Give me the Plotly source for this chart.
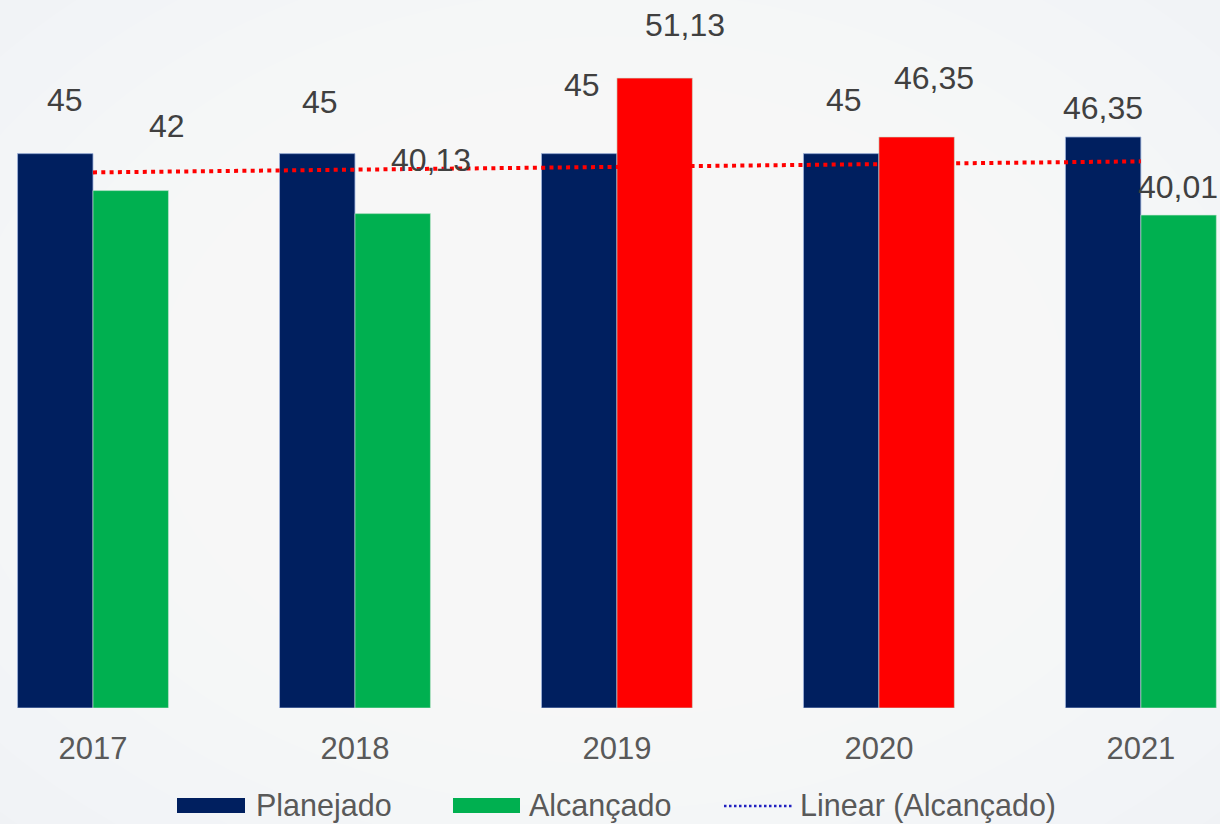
import numpy as np
import plotly.graph_objects as go

# --- data -----------------------------------------------------------------
years = ["2017", "2018", "2019", "2020", "2021"]
planejado = [45, 45, 45, 45, 46.35]
alcancado = [42, 40.13, 51.13, 46.35, 40.01]

# --- styling --------------------------------------------------------------
NAVY = "#001F5F"
GREEN = "#00B050"
RED = "#FF0000"
FONT = "Arial, Liberation Sans, sans-serif"
LABEL_COLOR = "#404040"
TICK_COLOR = "#595959"
BARGAP = 0.424
HALF = (1 - BARGAP) / 4  # centre offset of each bar inside its group

# Achieved bars above the planned level are highlighted in red
alc_colors = [RED if a > p else GREEN for a, p in zip(alcancado, planejado)]

# Per-label nudges (pixels) for the hand-placed value labels
plan_label_shift = [(10, 54), (3, 52), (3, 69), (3, 54), (0, 29)]
alc_label_shift = [(36, 65), (38, 54), (30, 53), (17, 59), (-1, 28)]


def fmt(v):
    if float(v).is_integer():
        return str(int(v))
    return f"{v:.2f}".replace(".", ",")


# Linear trend of the achieved values
xi = np.arange(1, len(alcancado) + 1)
slope, intercept = np.polyfit(xi, alcancado, 1)
trend = slope * xi + intercept

fig = go.Figure()
fig.add_bar(
    x=years, y=planejado, name="Planejado",
    marker=dict(color=NAVY, line=dict(color="rgba(160,180,220,0.8)", width=1)),
    showlegend=False,
)
fig.add_bar(
    x=years, y=alcancado, name="Alcançado",
    marker=dict(color=alc_colors, line=dict(color="rgba(200,230,210,0.6)", width=1)),
    showlegend=False,
)
fig.add_scatter(
    x=years, y=trend, mode="lines", name="Linear (Alcançado)",
    line=dict(color=RED, width=4, dash="4px,4.3px"),
    showlegend=False, hoverinfo="skip",
)

annotations = []
for i, (val, (dx, dy)) in enumerate(zip(planejado, plan_label_shift)):
    annotations.append(dict(
        x=i - HALF, y=float(val), xref="x", yref="y", text=fmt(val),
        showarrow=False, xshift=dx, yshift=dy,
        yanchor="middle", xanchor="center",
        font=dict(family=FONT, size=32, color=LABEL_COLOR),
    ))
for i, (val, (dx, dy)) in enumerate(zip(alcancado, alc_label_shift)):
    annotations.append(dict(
        x=i + HALF, y=float(val), xref="x", yref="y", text=fmt(val),
        showarrow=False, xshift=dx, yshift=dy,
        yanchor="middle", xanchor="center",
        font=dict(family=FONT, size=32, color=LABEL_COLOR),
    ))

# --- legend drawn below the axis -------------------------------------------
def py(pix):
    # pixel row -> paper y (plot area spans rows 0..708)
    return (708 - pix) / 708

shapes = []
# soft radial background
for k in range(14):
    r = 1 - k / 14
    shapes.append(dict(
        type="circle", xref="paper", yref="paper", layer="below",
        x0=0.5 - 0.75 * r, x1=0.5 + 0.75 * r,
        y0=py(400) - 0.9 * r, y1=py(400) + 0.9 * r,
        fillcolor="rgba(255,255,255,0.1)", line=dict(width=0),
    ))

legend_items = [
    ("rect", NAVY, 177, 245, "Planejado", 254),
    ("rect", GREEN, 453, 520, "Alcançado", 527),
    ("dot", "#2020C0", 724, 793, "Linear (Alcançado)", 798),
]
for kind, color, x0, x1, label, tx in legend_items:
    if kind == "rect":
        shapes.append(dict(
            type="rect", xref="paper", yref="paper",
            x0=x0 / 1220, x1=x1 / 1220, y0=py(813), y1=py(798),
            fillcolor=color, line=dict(width=0),
        ))
    else:
        shapes.append(dict(
            type="line", xref="paper", yref="paper",
            x0=x0 / 1220, x1=x1 / 1220, y0=py(806), y1=py(806),
            line=dict(color=color, width=2.5, dash="2.5px,2.5px"),
        ))
    annotations.append(dict(
        x=tx / 1220, y=py(805), xref="paper", yref="paper", text=label,
        showarrow=False, xanchor="left", yanchor="middle",
        font=dict(family=FONT, size=30.5, color=TICK_COLOR),
    ))

fig.update_layout(
    width=1220, height=824,
    margin=dict(l=0, r=0, t=0, b=116, pad=0),
    paper_bgcolor="#EFF1F4",
    plot_bgcolor="rgba(0,0,0,0)",
    barmode="group", bargap=BARGAP, bargroupgap=0,
    annotations=annotations, shapes=shapes,
    showlegend=False,
    font=dict(family=FONT),
)
fig.update_xaxes(
    type="category", range=[-0.355, 4.302],
    showgrid=False, zeroline=False, showline=False,
    ticks="", ticklabelstandoff=19,
    tickfont=dict(family=FONT, size=31, color=TICK_COLOR),
)
fig.update_yaxes(
    range=[0, 57.47], showticklabels=False, ticks="",
    showgrid=False, zeroline=False, showline=False,
)

fig.write_html("out.html")
